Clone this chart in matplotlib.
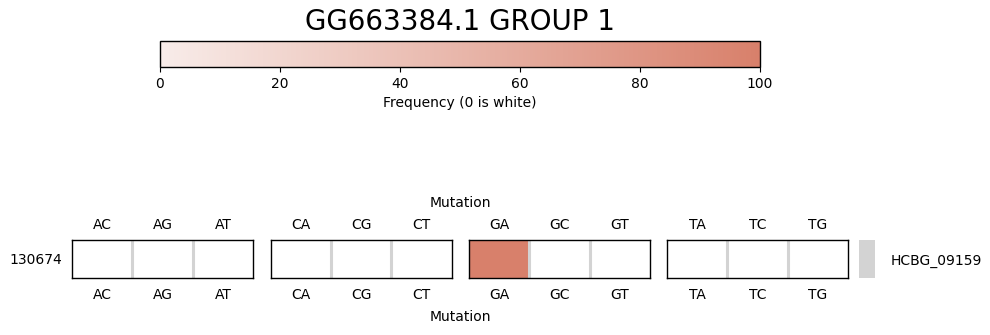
import numpy as np
import matplotlib
matplotlib.use("Agg")
import matplotlib.pyplot as plt
from matplotlib.colors import LinearSegmentedColormap, Normalize

# Substitution groups and their frequencies for the single position
groups = [["AC", "AG", "AT"], ["CA", "CG", "CT"], ["GA", "GC", "GT"], ["TA", "TC", "TG"]]
freqs = [[0, 0, 0], [0, 0, 0], [100, 0, 0], [0, 0, 0]]
positions = ["130674"]
gene = "HCBG_09159"
title = "GG663384.1 GROUP 1"

W, H = 990, 335
fig = plt.figure(figsize=(W / 100, H / 100), dpi=100)

cmap = LinearSegmentedColormap.from_list("freq", ["#f8ece9", "#d8806b"])
norm = Normalize(0, 100)

def rect(x0, y0, x1, y1):
    return [x0 / W, 1 - y1 / H, (x1 - x0) / W, (y1 - y0) / H]

# Colour bar
cax = fig.add_axes(rect(160, 41, 760, 67))
sm = matplotlib.cm.ScalarMappable(norm=norm, cmap=cmap)
cb = fig.colorbar(sm, cax=cax, orientation="horizontal")
cb.set_ticks([0, 20, 40, 60, 80, 100])
cb.set_label("Frequency (0 is white)", fontsize=10)
cb.outline.set_linewidth(1)
cax.tick_params(labelsize=10)
fig.text(460 / W, 1 - 22 / H, title, fontsize=20, ha="center", va="center")

# Heatmap panels
lefts = [72, 270.5, 469, 667]
for i, (labels, vals) in enumerate(zip(groups, freqs)):
    ax = fig.add_axes(rect(lefts[i], 240, lefts[i] + 181, 278))
    data = np.ma.masked_equal(np.array([vals], dtype=float), 0)
    ax.pcolormesh(data, cmap=cmap, norm=norm)
    for xs in (1, 2):
        ax.axvline(xs, color="lightgrey", linewidth=2.2)
    ax.set_xlim(0, 3)
    ax.set_ylim(0, 1)
    ticks = np.arange(3) + 0.5
    ax.set_xticks(ticks)
    ax.set_xticklabels(labels)
    ax.tick_params(axis="x", length=0, pad=7.5, labelsize=10)
    top = ax.secondary_xaxis("top")
    top.set_xticks(ticks)
    top.set_xticklabels(labels)
    top.tick_params(axis="x", length=0, pad=6, labelsize=10)
    top.spines["top"].set_visible(False)
    if i == 0:
        ax.set_yticks([0.5])
        ax.set_yticklabels(positions)
        ax.tick_params(axis="y", length=0, pad=7, labelsize=10)
    else:
        ax.set_yticks([])
    for s in ax.spines.values():
        s.set_linewidth(1)
        s.set_color("black")
        s.set_zorder(5)

# Gene annotation strip
gax = fig.add_axes(rect(859, 240, 875, 278))
gax.pcolormesh(np.array([[1.0]]), cmap=LinearSegmentedColormap.from_list("g", ["lightgrey", "lightgrey"]))
gax.set_xticks([])
gax.set_yticks([0.5])
gax.set_yticklabels([gene])
gax.yaxis.tick_right()
gax.tick_params(axis="y", length=0, pad=11, labelsize=10)
for s in gax.spines.values():
    s.set_visible(False)

fig.text(460 / W, 1 - 203 / H, "Mutation", fontsize=10, ha="center", va="center")
fig.text(460 / W, 1 - 317 / H, "Mutation", fontsize=10, ha="center", va="center")

fig.savefig("out.png", dpi=100)
